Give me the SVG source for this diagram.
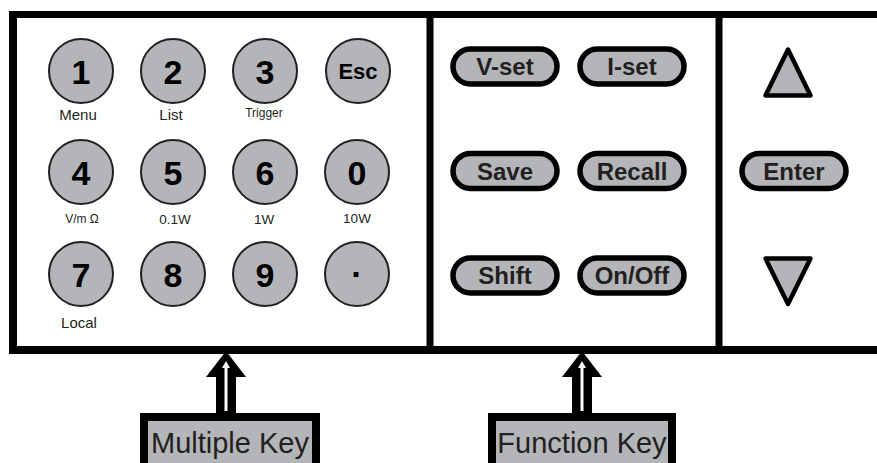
<svg xmlns="http://www.w3.org/2000/svg" width="877" height="463" viewBox="0 0 877 463">
<style>
.key{fill:#b4b5b8;stroke:#231f20;stroke-width:2}
.pill{fill:#b4b5b8;stroke:#000;stroke-width:5.5}
.tri{fill:#b4b5b8;stroke:#000;stroke-width:4.5;stroke-linejoin:round}
.digit{font-family:"Liberation Sans",Arial,sans-serif;font-weight:bold;font-size:34px;fill:#000;text-anchor:middle}
.ptxt{font-family:"Liberation Sans",Arial,sans-serif;font-weight:bold;font-size:24px;fill:#231f20;text-anchor:middle}
.lbl{font-family:"Liberation Sans",Arial,sans-serif;font-size:15px;fill:#231f20;text-anchor:middle}
.lbls{font-family:"Liberation Sans",Arial,sans-serif;font-size:13.5px;fill:#231f20;text-anchor:middle}
.lblxs{font-family:"Liberation Sans",Arial,sans-serif;font-size:12px;fill:#231f20;text-anchor:middle}
.frame{stroke:#000;fill:none}
.box{fill:#b4b5b8;stroke:#000;stroke-width:8}
.btxt{font-family:"Liberation Sans",Arial,sans-serif;font-size:29px;fill:#231f20;text-anchor:middle}
</style>
<rect width="877" height="463" fill="#fff"/>
<g id="panel">
<line class="frame" x1="9" y1="14.5" x2="877" y2="14.5" stroke-width="7"/>
<line class="frame" x1="9" y1="350" x2="877" y2="350" stroke-width="8"/>
<line class="frame" x1="13" y1="11" x2="13" y2="354" stroke-width="8"/>
<line class="frame" x1="430" y1="11" x2="430" y2="354" stroke-width="7"/>
<line class="frame" x1="719" y1="11" x2="719" y2="354" stroke-width="7"/>
</g>
<g id="key-1"><circle class="key" cx="81" cy="71" r="32"/><text class="digit" x="81" y="83.5">1</text><text class="lbl" x="78" y="120">Menu</text></g>
<g id="key-2"><circle class="key" cx="173" cy="71" r="32"/><text class="digit" x="173" y="83.5">2</text><text class="lbl" x="171" y="120">List</text></g>
<g id="key-3"><circle class="key" cx="265" cy="71" r="32"/><text class="digit" x="265" y="83.5">3</text><text class="lblxs" x="264" y="117">Trigger</text></g>
<g id="key-esc"><circle class="key" cx="358" cy="71" r="32"/><text class="digit" x="358" y="79" style="font-size:22px">Esc</text></g>
<g id="key-4"><circle class="key" cx="81" cy="172" r="32"/><text class="digit" x="81" y="184.5">4</text><text class="lblxs" x="82" y="223">V/m  Ω</text></g>
<g id="key-5"><circle class="key" cx="173" cy="172" r="32"/><text class="digit" x="173" y="184.5">5</text><text class="lbls" x="175" y="224">0.1W</text></g>
<g id="key-6"><circle class="key" cx="265" cy="172" r="32"/><text class="digit" x="265" y="184.5">6</text><text class="lbls" x="264" y="224">1W</text></g>
<g id="key-0"><circle class="key" cx="357" cy="172" r="32"/><text class="digit" x="357" y="184.5">0</text><text class="lbls" x="357" y="223">10W</text></g>
<g id="key-7"><circle class="key" cx="81" cy="274" r="32"/><text class="digit" x="81" y="286.5">7</text><text class="lbl" x="79" y="328">Local</text></g>
<g id="key-8"><circle class="key" cx="173" cy="274" r="32"/><text class="digit" x="173" y="286.5">8</text></g>
<g id="key-9"><circle class="key" cx="265" cy="274" r="32"/><text class="digit" x="265" y="286.5">9</text></g>
<g id="key-dot"><circle class="key" cx="357" cy="274" r="32"/><text class="digit" x="357" y="286">·</text></g>
<g id="key-vset"><rect class="pill" x="453" y="49" width="104" height="35" rx="17.5"/><text class="ptxt" x="505" y="75">V-set</text></g>
<g id="key-iset"><rect class="pill" x="580" y="49" width="104" height="35" rx="17.5"/><text class="ptxt" x="632" y="75">I-set</text></g>
<g id="key-save"><rect class="pill" x="453" y="153.5" width="104" height="35" rx="17.5"/><text class="ptxt" x="505" y="180">Save</text></g>
<g id="key-recall"><rect class="pill" x="580" y="153.5" width="104" height="35" rx="17.5"/><text class="ptxt" x="632" y="180">Recall</text></g>
<g id="key-shift"><rect class="pill" x="453" y="258" width="104" height="35" rx="17.5"/><text class="ptxt" x="505" y="284">Shift</text></g>
<g id="key-onoff"><rect class="pill" x="580" y="258" width="104" height="35" rx="17.5"/><text class="ptxt" x="632" y="284">On/Off</text></g>
<g id="key-up"><polygon class="tri" points="788,49.5 765.5,95.5 810.5,95.5"/></g>
<g id="key-enter"><rect class="pill" x="742" y="153.5" width="104" height="35" rx="17.5"/><text class="ptxt" x="794" y="180">Enter</text></g>
<g id="key-down"><polygon class="tri" points="765.5,258.5 810.5,258.5 788,304"/></g>
<g id="connectors">
<polygon points="226,351 206,377 216,377 216,415 236,415 236,377 246,377" fill="#000"/>
<line x1="226" y1="367" x2="226" y2="411" stroke="#fff" stroke-width="3"/>
<polygon points="226,361 222,368 230,368" fill="#fff"/>
<polygon points="582,351 562,377 572,377 572,415 592,415 592,377 602,377" fill="#000"/>
<line x1="582" y1="367" x2="582" y2="411" stroke="#fff" stroke-width="3"/>
<polygon points="582,361 578,368 586,368" fill="#fff"/>
</g>
<g id="box-multiple"><rect class="box" x="144" y="417" width="172" height="60"/><text class="btxt" x="230" y="453">Multiple Key</text></g>
<g id="box-function"><rect class="box" x="492" y="417" width="180" height="60"/><text class="btxt" x="582" y="453">Function Key</text></g>
</svg>
